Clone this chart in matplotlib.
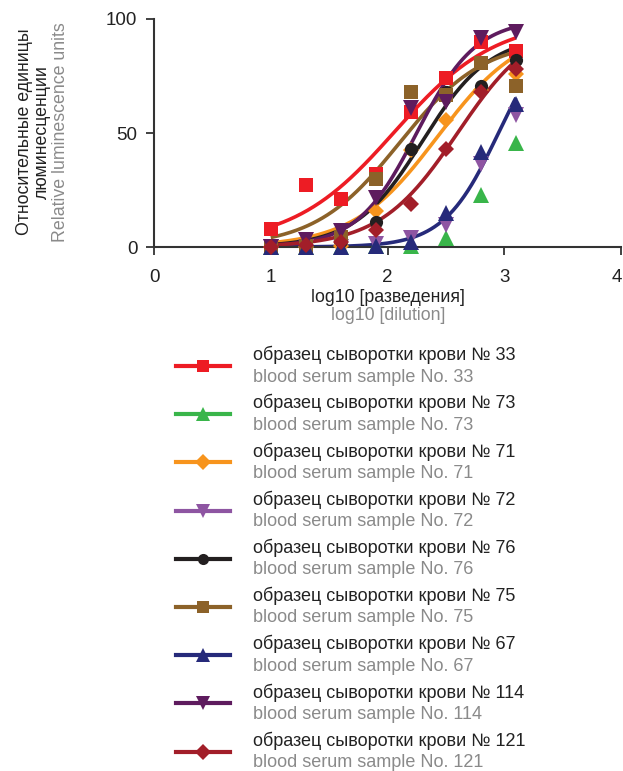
import numpy as np
import matplotlib
matplotlib.use("Agg")
import matplotlib.pyplot as plt
from matplotlib.lines import Line2D

plt.rcParams['font.family'] = ['Liberation Sans', 'DejaVu Sans']

# ---- data ----
log_dilution = [1.0, 1.3, 1.6, 1.9, 2.2, 2.5, 2.8, 3.1]
x_ticks = [0, 1, 2, 3, 4]
y_ticks = [0, 50, 100]

sample_ids = ["33", "73", "71", "72", "76", "75", "67", "114", "121"]
colors = ["#ED1C24", "#39B54A", "#F7941D", "#8E55A2", "#231F20",
          "#8C6229", "#262A7A", "#5E1B5E", "#A21E29"]
markers = ["s", "^", "D", "v", "o", "s", "^", "v", "D"]

s33 = [8, 27, 21, 32, 59, 74, 90, 86]
s73 = [0, 0, 0, 0.5, 0.5, 4, 23, 45.5]
s71 = [0, 0, 0.5, 16, 42.5, 55.5, 69, 76]
s72 = [0, 0, 0, 1.5, 4, 9.5, 36.5, 58]
s76 = [0, 1, 2.5, 11, 43, 68, 70.5, 82]
s75 = [0, 0.5, 4.5, 30, 68, 66.5, 80.5, 70.5]
s67 = [0, 0, 0, 0.5, 2, 15, 41.5, 62.5]
s114 = [0, 3, 7, 21.5, 61, 63.5, 91.5, 94.5]
s121 = [0, 1, 2, 7.5, 19, 43, 68, 78]
series = [s33, s73, s71, s72, s76, s75, s67, s114, s121]

# fitted curve parameters (bottom, top, logEC50, hill); None = no curve
fits = [(1, 100, 2.06, 1.0), None, (0, 97, 2.43, 1.2), None, (0, 93, 2.3, 1.5),
        (0, 91, 2.1, 1.2), (0, 100, 2.95, 1.85), (0, 100, 2.25, 1.7), (0, 100, 2.6, 1.3)]

ru_label = "образец сыворотки крови № {}"
en_label = "blood serum sample No. {}"

# ---- figure ----
W, H = 623, 771
fig = plt.figure(figsize=(W / 100, H / 100), dpi=100)
ax = fig.add_axes([154 / W, 1 - 247 / H, 467 / W, 228 / H])

xs = np.linspace(1.0, 3.1, 200)
for vals, fit, c in zip(series, fits, colors):
    if fit is not None:
        b, t, ec, h = fit
        ax.plot(xs, b + (t - b) / (1 + 10 ** ((ec - xs) * h)), color=c, lw=2.6,
                solid_capstyle='butt', zorder=2)
size_map = {"s": 10, "^": 11, "v": 11, "D": 8.5, "o": 9.5}
for vals, c, m in zip(series, colors, markers):
    ax.plot(log_dilution, vals, linestyle='none', marker=m, color=c, ms=size_map[m],
            markeredgewidth=0, zorder=3, clip_on=False)

ax.set_xlim(0, 4)
ax.set_ylim(0, 100)
ax.set_xticks(x_ticks)
ax.set_xticklabels([str(v) for v in x_ticks[:-1]] + [""])
ax.set_yticks(y_ticks)
for s in ("top", "right"):
    ax.spines[s].set_visible(False)
for s in ("left", "bottom"):
    ax.spines[s].set_color("#333333")
    ax.spines[s].set_linewidth(1.5)
ax.tick_params(direction='out', length=6, width=1.3, color="#333333",
               labelsize=13.5, colors="#222222")
ax.tick_params(axis='x', pad=10)
ax.tick_params(axis='y', pad=6)
# last x tick label kept inside the canvas
ax.annotate(str(x_ticks[-1]), xy=(x_ticks[-1], 0), xycoords=('data', 'axes fraction'),
            xytext=(1, -16), textcoords='offset points', ha='right', va='top',
            fontsize=13.5, color="#222222", annotation_clip=False)

# axis labels
fig.text(25 / W, 1 - 132 / H, "Относительные единицы", rotation=90, ha='center', va='center',
         fontsize=12.8, color="#222222")
fig.text(42 / W, 1 - 132 / H, "люминесценции", rotation=90, ha='center', va='center',
         fontsize=12.8, color="#222222")
fig.text(61 / W, 1 - 132 / H, "Relative luminescence units", rotation=90, ha='center',
         va='center', fontsize=12.8, color="#8a8a8a")
fig.text(388 / W, 1 - 298 / H, "log10 [разведения]", ha='center', va='center',
         fontsize=12.8, color="#222222")
fig.text(388 / W, 1 - 316 / H, "log10 [dilution]", ha='center', va='center',
         fontsize=12.8, color="#8a8a8a")

# legend
leg_size = {"s": 9, "^": 10, "v": 10, "D": 8, "o": 8}
for i, (sid, c, m) in enumerate(zip(sample_ids, colors, markers)):
    yc = 366 + 48.2 * i
    y = 1 - yc / H
    fig.add_artist(Line2D([176 / W, 230 / W], [y, y], color=c, lw=3,
                          transform=fig.transFigure))
    fig.add_artist(Line2D([203 / W], [y], marker=m, color=c, ms=leg_size[m],
                          markeredgewidth=0, transform=fig.transFigure))
    fig.text(253 / W, 1 - (yc - 11) / H, ru_label.format(sid), ha='left', va='center',
             fontsize=13, color="#222222")
    fig.text(253 / W, 1 - (yc + 11) / H, en_label.format(sid), ha='left', va='center',
             fontsize=13, color="#8a8a8a")

fig.savefig("out.png", dpi=100)
